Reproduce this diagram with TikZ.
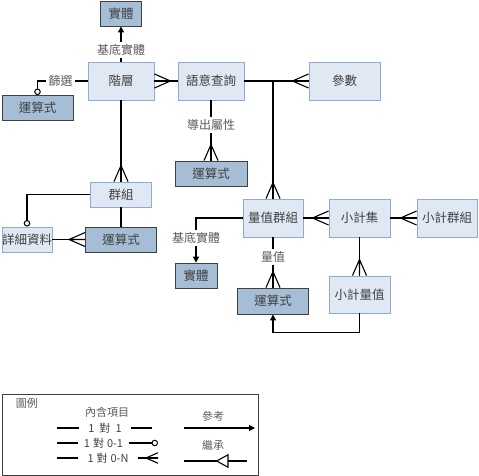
\documentclass[tikz,border=0pt]{standalone}
\usepackage{fontspec}
\setmainfont{Noto Sans CJK TC}
\usepackage{tikz}
\usetikzlibrary{arrows.meta, decorations.markings}
\definecolor{boxlight}{HTML}{E0E8F4}
\definecolor{boxedge}{HTML}{8EA9DB}
\definecolor{boxdark}{HTML}{A5BED6}
\definecolor{darkedge}{HTML}{404040}
\definecolor{txtgray}{HTML}{404040}
\definecolor{lblgray}{HTML}{5A5A5A}
\tikzset{
  ent/.style={draw=boxedge, fill=boxlight, text=txtgray, line width=0.9pt, inner sep=0pt, minimum height=38pt, font=\fontsize{12.5}{14}\selectfont},
  expr/.style={draw=darkedge, fill=boxdark, text=txtgray, line width=0.9pt, inner sep=0pt, minimum height=25pt, font=\fontsize{12.5}{14}\selectfont},
  lbl/.style={fill=white, text=lblgray, inner sep=2.5pt, font=\fontsize{12}{14}\selectfont},
  legtxt/.style={text=txtgray, inner sep=0pt, font=\fontsize{11}{13}\selectfont},
  ref/.style={-{Triangle[length=6pt, width=6pt]}},
  opt/.style={-{Circle[open, length=6.5pt, width=6.5pt, line width=1pt]}},
  inherit/.style={decoration={markings, mark=at position #1 with {\arrowreversed{Triangle[length=13pt, width=14pt, fill=white]}}}, postaction={decorate}}
}
\newcommand{\fmany}[3][1]{\draw[shift={(#2)}, rotate=#3, scale=#1] (16,0) -- (0,7) (16,0) -- (0,0) (16,0) -- (0,-7);}

\begin{document}
\begin{tikzpicture}[x=1pt, y=-1pt, line width=1.1pt]
\useasboundingbox (0,0) rectangle (479,476);
\node[expr, minimum width=41pt] (ent1) at (121,13.5) {實體};
\node[ent, minimum width=66pt] (hier) at (121,81) {階層};
\node[ent, minimum width=66pt] (query) at (211,81) {語意查詢};
\node[ent, minimum width=71pt] (param) at (344.5,81) {參數};
\node[expr, minimum width=71pt] (expr1) at (37.5,108) {運算式};
\node[expr, minimum width=72pt] (expr2) at (211,173.5) {運算式};
\node[ent, minimum width=61pt, minimum height=25pt] (group) at (121,194.5) {群組};
\node[ent, minimum width=50pt, minimum height=25pt] (detail) at (27,239.5) {詳細資料};
\node[expr, minimum width=71pt] (expr4) at (121,239.5) {運算式};
\node[ent, minimum width=60pt] (mgroup) at (273,218) {量值群組};
\node[ent, minimum width=61pt] (subset) at (359.5,218) {小計集};
\node[ent, minimum width=60pt] (subgroup) at (447,218) {小計群組};
\node[expr, minimum width=42pt] (ent2) at (196,275.5) {實體};
\node[expr, minimum width=71pt, minimum height=26pt] (expr3) at (273,301) {運算式};
\node[ent, minimum width=61pt, minimum height=37pt] (subval) at (359.5,294.5) {小計量值};

\draw[ref] (hier.north) -- node[lbl, pos=.33] {基底實體} (ent1.south);
\draw[opt] (hier.west) -| node[lbl, pos=.27] {篩選} (expr1.north);
\draw (hier.east) -- (query.west); \fmany{hier.east}{0}
\draw (hier.south) -- (group.north); \fmany{group.north}{90}
\draw (query.south) -- node[lbl, pos=.41] {導出屬性} (expr2.north); \fmany{expr2.north}{90}
\draw (query.east) -- (param.west); \fmany{param.west}{180}
\draw (query.east -| mgroup.north) -- (mgroup.north); \fmany{mgroup.north}{90}
\draw[opt] (group.west) -| (detail.north);
\draw (detail.east) -- (expr4.west); \fmany{expr4.west}{180}
\draw (group.south) -- (expr4.north);
\draw[ref] (mgroup.west) -| node[lbl, pos=.72] {基底實體} (ent2.north);
\draw (mgroup.south) -- node[lbl, pos=.39] {量值} (expr3.north); \fmany{expr3.north}{90}
\draw (mgroup.east) -- (subset.west); \fmany{subset.west}{180}
\draw (subset.east) -- (subgroup.west); \fmany{subgroup.west}{180}
\draw (subset.south) -- (subval.north); \fmany{subval.north}{90}
\draw[ref] (subval.south) -- ++(0,19) -| (expr3.south);

\node[draw=darkedge, line width=1pt, minimum width=256pt, minimum height=81pt, inner sep=0pt] (legend) at (130,434.5) {};
\node[legtxt, text=lblgray] (legtitle) at (27,403) {圖例};
\node[legtxt, text=lblgray] (contain) at (107,412) {內含項目};
\node[legtxt, text=lblgray] (reftxt) at (213,416) {參考};
\node[legtxt, text=lblgray] (inhtxt) at (213,445) {繼承};
\node[legtxt, minimum width=50pt] (one) at (105,428) {1\hspace{5pt}對\hspace{5pt}1};
\node[legtxt, minimum width=49pt] (zeroone) at (103.5,443) {1\hspace{3pt}對\hspace{3pt}0-1};
\node[legtxt, minimum width=58pt] (zeron) at (108,458) {1\hspace{3pt}對\hspace{3pt}0-N};
\coordinate (oneL) at (57,428); \coordinate (oneR) at (152,428);
\coordinate (zoL) at (57,443); \coordinate (zoR) at (158,443);
\coordinate (znL) at (57,458); \coordinate (znR) at (158,458);
\coordinate (refL) at (184,428); \coordinate (refR) at (255,428);
\coordinate (inhL) at (184,461); \coordinate (inhR) at (247,461);
\draw (oneL) -- (one); \draw (one) -- (oneR);
\draw (zoL) -- (zeroone); \draw[opt] (zeroone) -- (zoR);
\draw (znL) -- (zeron); \draw (zeron) -- (znR); \fmany[0.75]{znR}{180}
\draw[ref] (refL) -- (refR);
\draw[inherit=0.5] (inhL) -- (inhR);
\end{tikzpicture}
\end{document}
